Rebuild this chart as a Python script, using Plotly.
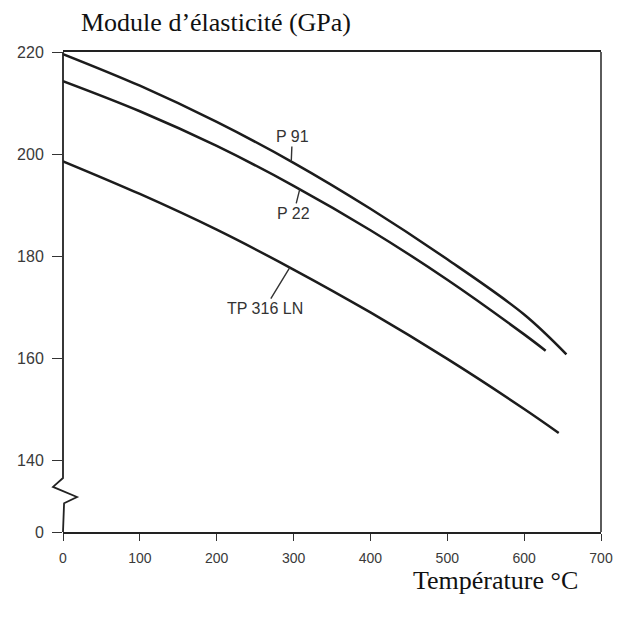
import numpy as np
import plotly.graph_objects as go

# Temperature (°C) and modulus of elasticity (GPa)
t_p91 = [0, 100, 200, 300, 400, 500, 600, 655]
e_p91 = [219.6, 213.4, 206.3, 198.3, 189.3, 179.4, 168.6, 160.8]

t_p22 = [0, 100, 200, 300, 400, 500, 600, 628]
e_p22 = [214.3, 208.4, 201.6, 193.8, 185.1, 175.4, 164.7, 161.5]

t_tp316 = [0, 100, 200, 300, 400, 500, 600, 645]
e_tp316 = [198.6, 192.2, 185.2, 177.4, 169.0, 159.9, 150.1, 145.4]

x_ticks = [0, 100, 200, 300, 400, 500, 600, 700]
y_ticks = [140, 160, 180, 200, 220]
y_break_value = 126  # axis position where the broken axis shows "0"

LINE = "#1c1c1c"
SANS = "Liberation Sans, Arial, sans-serif"
SERIF = "Liberation Serif, Times New Roman, serif"

fig = go.Figure()
for t, e, name in [(t_p91, e_p91, "P 91"), (t_p22, e_p22, "P 22"), (t_tp316, e_tp316, "TP 316 LN")]:
    fig.add_trace(go.Scatter(x=t, y=e, mode="lines", name=name,
                             line=dict(color=LINE, width=2.5, shape="spline", smoothing=1.0)))

def lab(text, t, tt, ee, ax, ay):
    fig.add_annotation(x=t, y=float(np.interp(t, tt, ee)), text=text, showarrow=True,
                       arrowhead=0, arrowwidth=1.4, arrowcolor="#333", ax=ax, ay=ay,
                       standoff=0, font=dict(family=SANS, size=16, color="#333"))

lab("P 91", 297, t_p91, e_p91, 1, -25)
lab("P 22", 308, t_p22, e_p22, -6, 24)
lab("TP 316 LN", 295, t_tp316, e_tp316, -25, 41)

fig.update_layout(
    width=625, height=626,
    margin=dict(l=63, r=24, t=52, b=94),
    paper_bgcolor="white", plot_bgcolor="white",
    showlegend=False,
    xaxis=dict(range=[0, 700], tickvals=x_ticks, ticks="outside", ticklen=7,
               tickcolor="#333", tickwidth=1.2, showgrid=False, zeroline=False,
               showline=True, mirror=True, linecolor="#222", linewidth=1.8,
               tickfont=dict(family=SANS, size=14, color="#3a3a3a"),
               ticklabelstandoff=5),
    yaxis=dict(range=[y_break_value, 220],
               tickvals=[y_break_value] + y_ticks,
               ticktext=["0"] + [str(v) for v in y_ticks],
               ticks="outside", ticklen=10, tickcolor="#333", tickwidth=1.2,
               showgrid=False, zeroline=False, showline=False,
               tickfont=dict(family=SANS, size=16, color="#3a3a3a"),
               ticklabelstandoff=5),
)

# left axis with zigzag break, and right frame line
fig.add_shape(type="path", xref="paper", yref="paper",
              path="M 0,1 L 0,0.1125 L -0.0186,0.094 L 0.026,0.073 L 0.002,0.060 L 0,0",
              line=dict(color="#222", width=1.8))
fig.add_shape(type="line", xref="paper", yref="paper", x0=1, x1=1, y0=0, y1=1,
              line=dict(color="#333", width=1.6))

fig.add_annotation(xref="paper", yref="paper", x=0.0297, y=1.0625, xanchor="left",
                   yanchor="middle", showarrow=False, text="Module d’élasticité (GPa)",
                   font=dict(family=SERIF, size=26, color="#111"))
fig.add_annotation(xref="paper", yref="paper", x=0.803, y=-0.1, xanchor="center",
                   yanchor="middle", showarrow=False, text="Température °C",
                   font=dict(family=SERIF, size=26, color="#111"))

fig.write_html("out.html")
